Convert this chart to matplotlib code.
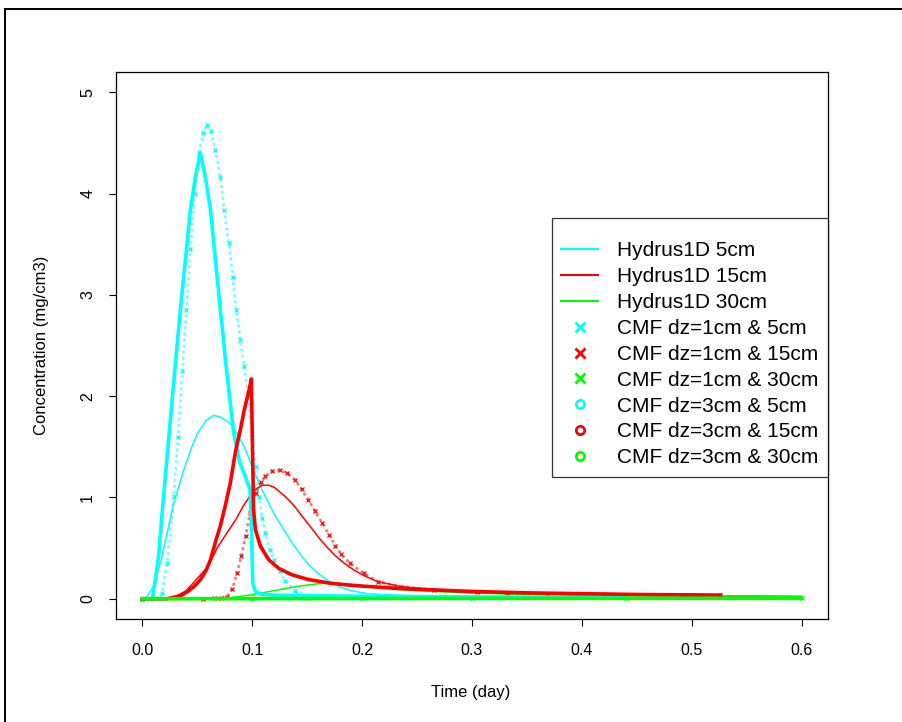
import matplotlib
matplotlib.use("Agg")
import matplotlib.pyplot as plt
from matplotlib.lines import Line2D

plt.rcParams["font.family"] = ["Liberation Sans", "DejaVu Sans"]

# ---- data ----
# Hydrus1D 5cm
t_h5 = [0.0, 0.003, 0.01, 0.017, 0.024, 0.0285, 0.0376, 0.045, 0.05, 0.058, 0.065, 0.072, 0.08,
        0.088, 0.094, 0.1, 0.107, 0.115, 0.122, 0.13, 0.137, 0.145, 0.152, 0.16, 0.17, 0.18,
        0.19, 0.205, 0.23, 0.26, 0.3, 0.4, 0.5, 0.6]
c_h5 = [0.0, 0.0, 0.12, 0.38, 0.72, 0.94, 1.27, 1.5, 1.63, 1.76, 1.81, 1.79, 1.73,
        1.6, 1.47, 1.3, 1.12, 0.94, 0.8, 0.66, 0.54, 0.42, 0.33, 0.25, 0.17, 0.115,
        0.08, 0.05, 0.035, 0.025, 0.015, 0.008, 0.006, 0.005]

# Hydrus1D 15cm
t_h15 = [0.0, 0.02, 0.03, 0.04, 0.05, 0.06, 0.068, 0.077, 0.085, 0.091, 0.097, 0.103, 0.109,
         0.115, 0.12, 0.13, 0.138, 0.145, 0.153, 0.16, 0.168, 0.176, 0.185, 0.193, 0.2015,
         0.214, 0.235, 0.265, 0.3, 0.35, 0.4, 0.45, 0.5, 0.55, 0.6]
c_h15 = [0.0, 0.0, 0.02, 0.08, 0.2, 0.32, 0.5, 0.65, 0.78, 0.9, 1.0, 1.08, 1.12,
         1.12, 1.1, 1.01, 0.92, 0.82, 0.71, 0.61, 0.51, 0.42, 0.34, 0.28, 0.23,
         0.17, 0.12, 0.09, 0.066, 0.05, 0.04, 0.033, 0.028, 0.025, 0.022]

# Hydrus1D 30cm
t_h30 = [0.0, 0.05, 0.08, 0.1, 0.12, 0.14, 0.16, 0.175, 0.19, 0.205, 0.235, 0.265, 0.3,
         0.36, 0.42, 0.52, 0.6]
c_h30 = [0.0, 0.0, 0.01, 0.04, 0.08, 0.12, 0.148, 0.155, 0.14, 0.12, 0.09, 0.072, 0.056,
         0.04, 0.033, 0.03, 0.023]

# CMF dz=1cm & 5cm
t_c1_5 = [0.0, 0.01, 0.015, 0.018, 0.0225, 0.0285, 0.0325, 0.0365, 0.04, 0.0437, 0.0475,
          0.0515, 0.0555, 0.059, 0.0625, 0.0665, 0.071, 0.0745, 0.0786, 0.0822, 0.0855,
          0.0892, 0.0925, 0.0965, 0.1, 0.103, 0.106, 0.109, 0.112, 0.116, 0.12, 0.125,
          0.13, 0.139, 0.15, 0.17, 0.2, 0.3, 0.44]
c_c1_5 = [0.0, 0.0, 0.01, 0.06, 0.35, 1.01, 1.6, 2.25, 2.85, 3.45, 4.0,
          4.4, 4.6, 4.68, 4.62, 4.43, 4.16, 3.84, 3.51, 3.18, 2.85,
          2.55, 2.3, 2.0, 1.6, 1.3, 1.0, 0.8, 0.65, 0.48, 0.38, 0.27,
          0.18, 0.08, 0.035, 0.015, 0.01, 0.008, 0.006]

# CMF dz=1cm & 15cm
t_c1_15 = [0.0, 0.055, 0.065, 0.072, 0.077, 0.082, 0.086, 0.09, 0.094, 0.098, 0.103, 0.108,
           0.112, 0.118, 0.1256, 0.132, 0.139, 0.145, 0.151, 0.157, 0.1636, 0.17, 0.1757,
           0.181, 0.189, 0.2015, 0.214, 0.235, 0.265, 0.305, 0.332, 0.368, 0.42, 0.526]
c_c1_15 = [0.0, 0.0, 0.005, 0.01, 0.02, 0.1, 0.25, 0.42, 0.62, 0.85, 1.04, 1.15,
           1.21, 1.26, 1.27, 1.24, 1.17, 1.08, 0.976, 0.87, 0.75, 0.63, 0.52,
           0.44, 0.35, 0.25, 0.17, 0.12, 0.09, 0.066, 0.056, 0.049, 0.045, 0.036]

# CMF dz=1cm & 30cm
t_c1_30 = [0.0, 0.1, 0.15, 0.2, 0.3, 0.44, 0.6]
c_c1_30 = [0.0, 0.0, 0.004, 0.008, 0.01, 0.012, 0.012]

# CMF dz=3cm & 5cm
t_c3_5 = [0.0, 0.009, 0.012, 0.015, 0.018, 0.0225, 0.027, 0.0316, 0.0346, 0.0376, 0.0407,
          0.0437, 0.0483, 0.0528, 0.0574, 0.062, 0.065, 0.068, 0.071, 0.074, 0.0756, 0.0832,
          0.0885, 0.0938, 0.098, 0.0995, 0.1005, 0.103, 0.108, 0.12, 0.15, 0.2, 0.3, 0.44]
c_c3_5 = [0.0, 0.0, 0.2, 0.45, 0.85, 1.4, 1.95, 2.5, 2.85, 3.18, 3.51,
          3.84, 4.16, 4.4, 4.16, 3.84, 3.51, 3.18, 2.85, 2.55, 2.35, 1.634,
          1.35, 1.2, 1.08, 0.6, 0.15, 0.07, 0.045, 0.035, 0.03, 0.025, 0.018, 0.012]

# CMF dz=3cm & 15cm
t_c3_15 = [0.0, 0.0224, 0.035, 0.041, 0.047, 0.053, 0.058, 0.062, 0.0665, 0.071, 0.0755,
           0.08, 0.0847, 0.089, 0.0925, 0.0953, 0.0975, 0.0992, 0.1002, 0.1012, 0.1029,
           0.1074, 0.115, 0.124, 0.136, 0.151, 0.17, 0.185, 0.2, 0.235, 0.27, 0.3, 0.35,
           0.4, 0.45, 0.526]
c_c3_15 = [0.0, 0.0, 0.03, 0.07, 0.12, 0.19, 0.28, 0.385, 0.56, 0.72, 0.92,
           1.14, 1.45, 1.66, 1.85, 1.98, 2.08, 2.17, 1.5, 0.88, 0.68,
           0.52, 0.385, 0.3, 0.237, 0.19, 0.155, 0.138, 0.125, 0.1, 0.085, 0.072, 0.058,
           0.05, 0.042, 0.036]

# CMF dz=3cm & 30cm
t_c3_30 = [0.0, 0.2, 0.4, 0.6]
c_c3_30 = [0.0, 0.002, 0.004, 0.004]

labels = ["Hydrus1D 5cm", "Hydrus1D 15cm", "Hydrus1D 30cm",
          "CMF dz=1cm & 5cm", "CMF dz=1cm & 15cm", "CMF dz=1cm & 30cm",
          "CMF dz=3cm & 5cm", "CMF dz=3cm & 15cm", "CMF dz=3cm & 30cm"]
colors = ["#00FFFF", "#FF0000", "#00FF00"]

fig = plt.figure(figsize=(9.03, 7.22), dpi=100)
ax = fig.add_axes([116 / 903, 1 - 619 / 722, 712 / 903, 547 / 722])

# Hydrus1D lines
for t, c, col in [(t_h5, c_h5, colors[0]), (t_h15, c_h15, colors[1]), (t_h30, c_h30, colors[2])]:
    ax.plot(t, c, color=col, lw=1.1)

# CMF dz=1cm -> x markers (dense in the original, so a faint dotted trace joins them)
for t, c, col in [(t_c1_5, c_c1_5, colors[0]), (t_c1_15, c_c1_15, colors[1]), (t_c1_30, c_c1_30, colors[2])]:
    ax.plot(t, c, color=col, lw=2.0, ls=(0, (1, 1.2)), alpha=0.55)
    ax.plot(t, c, color=col, ls="none", marker="x", ms=3.2, mew=0.9)

# CMF dz=3cm -> dense circles, drawn as thick trace
for t, c, col in [(t_c3_5, c_c3_5, colors[0]), (t_c3_15, c_c3_15, colors[1]), (t_c3_30, c_c3_30, colors[2])]:
    ax.plot(t, c, color=col, lw=2.6)

ax.set_xlim(-0.024, 0.624)
ax.set_ylim(-0.2, 5.2)
ax.set_xticks([0.0, 0.1, 0.2, 0.3, 0.4, 0.5, 0.6])
ax.set_xticklabels(["0.0", "0.1", "0.2", "0.3", "0.4", "0.5", "0.6"])
ax.set_yticks([0, 1, 2, 3, 4, 5])
ax.tick_params(axis="both", direction="out", length=5, width=0.8, labelsize=11.5)
ax.tick_params(axis="x", pad=12)
ax.tick_params(axis="y", pad=10, labelrotation=90)
for lab in ax.get_yticklabels():
    lab.set_va("center")
for sp in ax.spines.values():
    sp.set_linewidth(0.9)

fig.text(471 / 903, 1 - 692 / 722, "Time (day)", ha="center", va="center", fontsize=12)
fig.text(42 / 903, 1 - 345 / 722, "Concentration (mg/cm3)", ha="center", va="center",
         rotation=90, fontsize=12)

handles = [Line2D([], [], color=colors[0], lw=1.5),
           Line2D([], [], color=colors[1], lw=1.5),
           Line2D([], [], color=colors[2], lw=1.5)]
for col in colors:
    handles.append(Line2D([], [], color=col, ls="none", marker="x", ms=7, mew=2))
for col in colors:
    handles.append(Line2D([], [], color=col, ls="none", marker="o", ms=6, mfc="none", mew=2))
leg = ax.legend(handles, labels, loc="upper right", bbox_to_anchor=(1.0, 0.733),
                fontsize=15, frameon=True, fancybox=False, edgecolor="black",
                borderpad=0.45, labelspacing=0.33, handlelength=1.8, handletextpad=0.9,
                borderaxespad=0.0, title=" ", title_fontsize=6)
leg.get_frame().set_linewidth(0.9)

# outer frame (cropped at right/bottom)
fig.add_artist(Line2D([5 / 903, 5 / 903], [0, 1 - 9 / 722], color="black", lw=1.4,
                      transform=fig.transFigure))
fig.add_artist(Line2D([5 / 903, 1], [1 - 9 / 722, 1 - 9 / 722], color="black", lw=1.4,
                      transform=fig.transFigure))

fig.savefig("out.png", dpi=100)
